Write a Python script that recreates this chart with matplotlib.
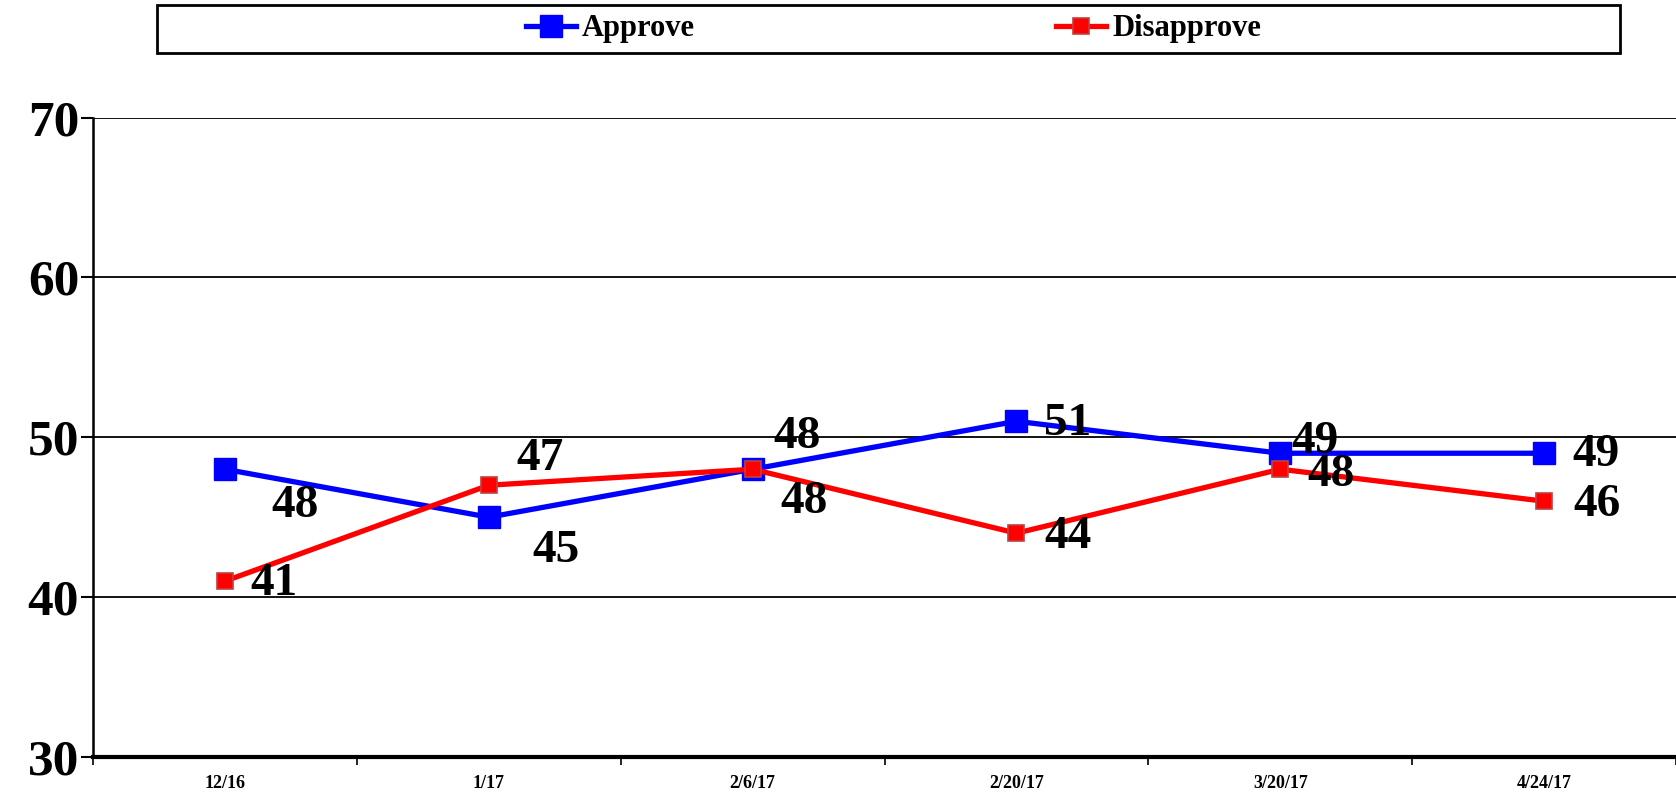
""" Approve / disapprove trend line chart """

import matplotlib
matplotlib.use("Agg")
from matplotlib import pyplot as plt
from matplotlib.patches import Rectangle
from matplotlib.ticker import FixedLocator

dates = ["12/16", "1/17", "2/6/17", "2/20/17", "3/20/17", "4/24/17"]
approve = [48, 45, 48, 51, 49, 49]
disapprove = [41, 47, 48, 44, 48, 46]

# label offsets (pixels)
approve_offsets = [(70, -37), (67, -34), (44, 32), (51, -3), (35, 11), (52, -2)]
disapprove_offsets = [(49, -3), (51, 26), (51, -33), (52, -4), (51, -6), (53, -4)]

plt.rcParams["font.family"] = ["Liberation Serif", "DejaVu Serif"]
plt.rcParams["font.weight"] = "bold"

fig = plt.figure(figsize=(16.76, 7.94), dpi=100)
ax = fig.add_axes([0.0555, 0.0466, 0.9445, 0.8054])

x = list(range(len(dates)))
ax.plot(x, approve, "-s", color="#0000ff", lw=3.8, markersize=16,
        markeredgecolor="#0000ff", label="Approve", zorder=3)
ax.plot(x, disapprove, "-s", color="#ff0000", lw=3.8, markersize=12,
        markeredgecolor="#c04040", markeredgewidth=1.2, label="Disapprove",
        zorder=4)

for xi, val, off in zip(x, approve, approve_offsets):
    ax.annotate(str(val), (xi, val), xytext=off, textcoords="offset pixels",
                ha="center", va="center", fontsize=34, fontweight="bold",
                zorder=5)
for xi, val, off in zip(x, disapprove, disapprove_offsets):
    ax.annotate(str(val), (xi, val), xytext=off, textcoords="offset pixels",
                ha="center", va="center", fontsize=34, fontweight="bold",
                zorder=5)

ax.set_xlim(-0.5, len(dates) - 0.5)
ax.set_ylim(30, 70)
ax.set_yticks([30, 40, 50, 60, 70])
ax.tick_params(axis="y", labelsize=37, length=9, width=1.5, pad=1)
for lab in ax.get_yticklabels():
    lab.set_fontweight("bold")

ax.set_xticks(x)
ax.set_xticklabels(dates, fontsize=13, fontweight="bold")
ax.tick_params(axis="x", which="major", length=0, pad=13)
ax.xaxis.set_minor_locator(FixedLocator([i - 0.5 for i in range(len(dates) + 1)]))
ax.tick_params(axis="x", which="minor", length=6, width=1.2)

ax.yaxis.grid(True, color="black", lw=1.3)
ax.set_axisbelow(True)
for side in ["top", "right"]:
    ax.spines[side].set_visible(False)
ax.spines["left"].set_linewidth(1.8)
ax.spines["bottom"].set_linewidth(3)

# legend box across the top
fig.patches.append(Rectangle((0.0937, 0.933), 0.873, 0.061,
                             transform=fig.transFigure, fill=False,
                             edgecolor="black", lw=2))
fig.legend(loc="center", bbox_to_anchor=(0.533, 0.9635), ncol=2,
           frameon=False, prop={"size": 22, "weight": "bold"},
           handlelength=1.65, handletextpad=0.2, columnspacing=11.8)

fig.savefig("out.png", dpi=100)
